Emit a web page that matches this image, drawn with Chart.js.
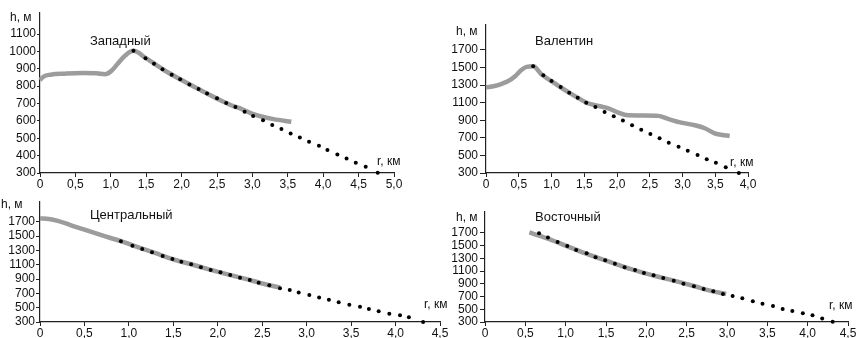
<!DOCTYPE html>
<html>
<head>
<meta charset="utf-8">
<script src="https://cdn.jsdelivr.net/npm/chart.js@4"></script>
<style>
  html, body { margin: 0; padding: 0; background: #fff; }
  body { width: 857px; height: 338px; position: relative; overflow: hidden; }
  canvas { position: absolute; }
</style>
</head>
<body>
<canvas id="west" width="428" height="190" style="left:0;top:0"></canvas>
<canvas id="valentin" width="429" height="190" style="left:428px;top:0"></canvas>
<canvas id="central" width="455" height="148" style="left:0;top:190px"></canvas>
<canvas id="east" width="412" height="148" style="left:445px;top:190px"></canvas>
<script>
// Западный
const westLineR = [0, 0.05, 0.15, 0.35, 0.6, 0.8, 0.92, 1.0, 1.1, 1.2, 1.32, 1.5, 1.75, 2.0, 2.25, 2.5, 2.7, 2.85, 3.0, 3.1, 3.3, 3.55];
const westLineH = [835, 855, 866, 872, 876, 874, 869, 885, 930, 975, 1003, 960, 893, 835, 780, 728, 690, 668, 640, 628, 610, 595];
const westDotR = [1.32, 1.49, 1.61, 1.73, 1.86, 1.98, 2.11, 2.24, 2.36, 2.50, 2.63, 2.76, 2.89, 3.01, 3.15, 3.28, 3.41, 3.54, 3.67, 3.80, 3.94, 4.06, 4.20, 4.33, 4.46, 4.60, 4.77];
const westDotH = [1004, 960, 929, 897, 866, 839, 810, 783, 757, 730, 703, 680, 653, 628, 603, 576, 553, 528, 505, 480, 457, 432, 407, 384, 359, 336, 302];
const westYTicks = [300, 400, 500, 600, 700, 800, 900, 1000, 1100];
const westXTicks = [0, 0.5, 1, 1.5, 2, 2.5, 3, 3.5, 4, 4.5, 5];

// Валентин
const valLineR = [0, 0.13, 0.25, 0.34, 0.45, 0.54, 0.62, 0.72, 0.85, 1.0, 1.15, 1.3, 1.45, 1.55, 1.72, 1.87, 2.02, 2.17, 2.4, 2.63, 2.78, 2.98, 3.19, 3.34, 3.49, 3.59, 3.72];
const valLineH = [1275, 1290, 1318, 1347, 1404, 1472, 1508, 1514, 1420, 1345, 1270, 1200, 1135, 1095, 1063, 1036, 987, 957, 955, 950, 915, 873, 843, 809, 752, 736, 721];
const valDotR = [0.72, 0.875, 1.00, 1.14, 1.27, 1.40, 1.53, 1.67, 1.81, 1.95, 2.09, 2.23, 2.37, 2.51, 2.65, 2.79, 2.94, 3.08, 3.23, 3.37, 3.51, 3.66, 3.86];
const valDotH = [1514, 1412, 1347, 1279, 1214, 1157, 1100, 1051, 994, 945, 896, 843, 793, 744, 695, 645, 600, 554, 505, 456, 418, 365, 300];
const valYTicks = [300, 500, 700, 900, 1100, 1300, 1500, 1700];
const valXTicks = [0, 0.5, 1, 1.5, 2, 2.5, 3, 3.5, 4];

// Центральный
const cenLineR = [0, 0.1, 0.2, 0.35, 0.5, 0.7, 0.9, 1.1, 1.3, 1.5, 1.7, 1.9, 2.1, 2.3, 2.5, 2.7];
const cenLineH = [1745, 1738, 1712, 1650, 1588, 1508, 1432, 1345, 1260, 1175, 1106, 1035, 968, 905, 838, 780];
const cenDotR = [0.91, 1.04, 1.15, 1.26, 1.38, 1.49, 1.59, 1.70, 1.81, 1.92, 2.03, 2.14, 2.25, 2.36, 2.46, 2.58, 2.70, 2.81, 2.91, 3.03, 3.14, 3.25, 3.36, 3.48, 3.60, 3.70, 3.81, 3.93, 4.05, 4.15, 4.31];
const cenDotH = [1426, 1366, 1319, 1272, 1221, 1179, 1142, 1105, 1063, 1026, 993, 956, 919, 886, 849, 812, 772, 745, 712, 677, 641, 611, 575, 541, 514, 481, 449, 416, 394, 366, 300];
const cenYTicks = [300, 500, 700, 900, 1100, 1300, 1500, 1700];
const cenXTicks = [0, 0.5, 1, 1.5, 2, 2.5, 3, 3.5, 4, 4.5];

// Восточный
const eastLineR = [0.55, 0.7, 0.85, 1.0, 1.2, 1.4, 1.6, 1.8, 2.0, 2.2, 2.4, 2.6, 2.8, 2.99];
const eastLineH = [1708, 1645, 1578, 1500, 1400, 1310, 1222, 1135, 1060, 995, 930, 862, 790, 742];
const eastDotR = [0.67, 0.78, 0.90, 1.02, 1.13, 1.26, 1.37, 1.49, 1.61, 1.73, 1.86, 1.97, 2.09, 2.21, 2.34, 2.46, 2.59, 2.71, 2.83, 2.95, 3.07, 3.19, 3.32, 3.44, 3.57, 3.69, 3.81, 3.94, 4.06, 4.18, 4.31];
const eastDotH = [1695, 1627, 1558, 1496, 1433, 1380, 1317, 1270, 1218, 1160, 1118, 1071, 1034, 992, 950, 903, 861, 819, 782, 740, 709, 672, 625, 588, 552, 506, 473, 437, 405, 354, 305];
const eastYTicks = [300, 500, 700, 900, 1100, 1300, 1500, 1700];
const eastXTicks = [0, 0.5, 1, 1.5, 2, 2.5, 3, 3.5, 4, 4.5];

const FONT = "'Liberation Sans', Arial, sans-serif";
const toPts = (xs, ys) => xs.map((x, i) => ({ x: x, y: ys[i] }));
const kmLabel = v => v === 0 ? '0' : v.toFixed(1).replace('.', ',');

// подписи внутри панели: название, h, r
const panelText = {
  id: 'panelText',
  afterDraw(chart, args, opts) {
    const ctx = chart.ctx;
    ctx.save();
    ctx.fillStyle = '#111';
    ctx.textBaseline = 'middle';
    ctx.textAlign = 'left';
    ctx.font = '13px ' + FONT;
    ctx.fillText(opts.title, opts.titleX, opts.titleY);
    ctx.font = '12px ' + FONT;
    ctx.fillText('h, м', opts.hX, opts.hY);
    ctx.fillText('r, км', opts.rX, opts.rY);
    ctx.restore();
  }
};

function makePanel(id, p) {
  return new Chart(document.getElementById(id).getContext('2d'), {
    type: 'line',
    data: {
      datasets: [{
        data: toPts(p.dotR, p.dotH),
        showLine: false,
        pointRadius: 2,
        pointBackgroundColor: '#000',
        pointBorderWidth: 0,
        clip: false
      }, {
        data: toPts(p.lineR, p.lineH),
        borderColor: '#9c9c9c',
        borderWidth: 4.5,
        pointRadius: 0,
        cubicInterpolationMode: 'monotone',
        clip: false
      }]
    },
    options: {
      responsive: false,
      animation: false,
      layout: { padding: { top: p.padTop, right: p.padRight, left: 0, bottom: 0 } },
      plugins: {
        legend: { display: false },
        tooltip: { enabled: false },
        panelText: p.text
      },
      scales: {
        x: {
          type: 'linear',
          min: 0,
          max: p.xTicks[p.xTicks.length - 1],
          afterBuildTicks: s => { s.ticks = p.xTicks.map(v => ({ value: v })); },
          afterFit: s => { s.height = p.xH; },
          grid: { drawOnChartArea: false, tickLength: 4, color: '#222' },
          border: { color: '#222', width: 1.2 },
          ticks: {
            padding: p.xPad, maxRotation: 0, autoSkip: false,
            color: '#111', font: { family: FONT, size: 12 },
            callback: v => kmLabel(v)
          }
        },
        y: {
          type: 'linear',
          min: 300,
          max: p.yMax,
          afterBuildTicks: s => { s.ticks = p.yTicks.map(v => ({ value: v })); },
          afterFit: s => { s.width = p.yW; },
          grid: { drawOnChartArea: false, tickLength: p.yTick, color: '#222' },
          border: { color: '#222', width: 1.2 },
          ticks: {
            padding: p.yPad, autoSkip: false,
            color: '#111', font: { family: FONT, size: 12 },
            callback: v => String(v)
          }
        }
      }
    },
    plugins: [panelText]
  });
}

makePanel('west', {
  lineR: westLineR, lineH: westLineH, dotR: westDotR, dotH: westDotH,
  yTicks: westYTicks, xTicks: westXTicks, yMax: 1221,
  padTop: 13, padRight: 34, yW: 40, xH: 17, yTick: 3, yPad: 1, xPad: 0,
  text: { title: 'Западный', titleX: 90, titleY: 41, hX: 10, hY: 18, rX: 377, rY: 162 }
});
makePanel('valentin', {
  lineR: valLineR, lineH: valLineH, dotR: valDotR, dotH: valDotH,
  yTicks: valYTicks, xTicks: valXTicks, yMax: 1984,
  padTop: 25, padRight: 109, yW: 58, xH: 17, yTick: 6, yPad: 2, xPad: 0,
  text: { title: 'Валентин', titleX: 107, titleY: 41, hX: 28, hY: 32, rX: 302, rY: 163 }
});
makePanel('central', {
  lineR: cenLineR, lineH: cenLineH, dotR: cenDotR, dotH: cenDotH,
  yTicks: cenYTicks, xTicks: cenXTicks, yMax: 1975,
  padTop: 12, padRight: 15, yW: 40, xH: 16, yTick: 4, yPad: 1, xPad: 0,
  text: { title: 'Центральный', titleX: 90, titleY: 25, hX: 1, hY: 15, rX: 424, rY: 115 }
});
makePanel('east', {
  lineR: eastLineR, lineH: eastLineH, dotR: eastDotR, dotH: eastDotH,
  yTicks: eastYTicks, xTicks: eastXTicks, yMax: 2030,
  padTop: 22, padRight: 9, yW: 40, xH: 16, yTick: 5, yPad: 2, xPad: 0,
  text: { title: 'Восточный', titleX: 90, titleY: 27, hX: 11, hY: 28, rX: 384, rY: 116 }
});
</script>
</body>
</html>
